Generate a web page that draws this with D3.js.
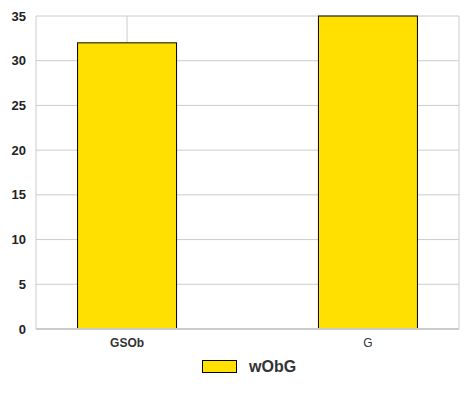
<!DOCTYPE html><html><head><script src="https://cdn.jsdelivr.net/npm/d3@7"></script>
<style>body{margin:0;background:#fff}</style></head><body><svg id="c" width="469" height="402"></svg>
<script>
const categories=["GSOb","G"];
const values=[32,35];
const seriesName="wObG";
const yTicks=[0,5,10,15,20,25,30,35];
const svg=d3.select("#c");
const L=36,R=459,T=16,B=329;
const font="'Liberation Sans Narrow','Liberation Sans',sans-serif";
const x=d3.scalePoint().domain(categories).range([L,R]).padding(0.378);
const y=d3.scaleLinear().domain([0,35]).range([B,T]);
const g=svg.append("g");
yTicks.forEach(t=>g.append("line").attr("x1",L).attr("x2",R).attr("y1",y(t)).attr("y2",y(t)).attr("stroke","#ccc"));
categories.forEach(c=>g.append("line").attr("x1",x(c)).attr("x2",x(c)).attr("y1",T).attr("y2",B).attr("stroke","#ccc"));
g.append("line").attr("x1",L).attr("x2",L).attr("y1",T).attr("y2",B).attr("stroke","#ccc");
g.append("line").attr("x1",R).attr("x2",R).attr("y1",T).attr("y2",B).attr("stroke","#ccc");
const bw=99;
g.selectAll("rect.b").data(values).join("rect").attr("x",(d,i)=>x(categories[i])-bw/2).attr("width",bw)
 .attr("y",d=>y(d)).attr("height",d=>B-y(d)).attr("fill","#ffe000").attr("stroke","#000").attr("stroke-width",1);
g.append("line").attr("x1",L).attr("x2",R).attr("y1",B).attr("y2",B).attr("stroke","#ccc").attr("stroke-width",2);
yTicks.forEach(t=>svg.append("text").attr("x",L-10).attr("y",y(t)+4.5).attr("text-anchor","end").attr("font-family",font).attr("font-weight","bold").attr("font-size",13).attr("fill","#222").text(t));
categories.forEach((c,i)=>svg.append("text").attr("x",x(c)).attr("y",347).attr("text-anchor","middle").attr("font-family",i==0?font:"'Liberation Sans',sans-serif").attr("font-weight",i==0?"bold":"normal").attr("font-size",12).attr("fill","#333").text(c));
svg.append("rect").attr("x",202.5).attr("y",360.5).attr("width",34).attr("height",12).attr("fill","#ffe000").attr("stroke","#000");
svg.append("text").attr("x",249).attr("y",372).attr("font-family",font).attr("font-weight","bold").attr("font-size",16).attr("fill","#333").text(seriesName);
</script></body></html>
